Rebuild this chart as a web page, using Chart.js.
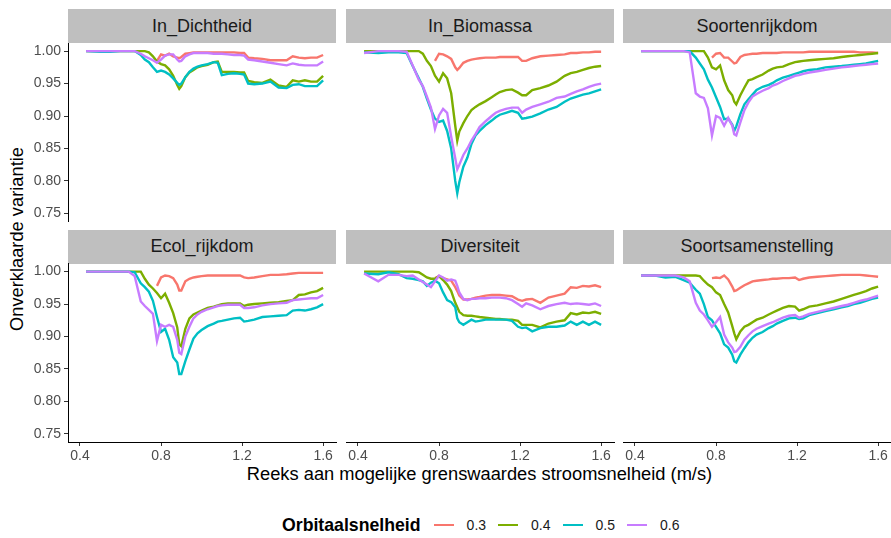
<!DOCTYPE html>
<html>
<head>
<meta charset="utf-8">
<script src="https://cdn.jsdelivr.net/npm/chart.js@4.4.1/dist/chart.umd.min.js"></script>
<style>
  html, body { margin: 0; padding: 0; background: #ffffff; }
  #wrap { position: relative; width: 891px; height: 538px; overflow: hidden;
          font-family: "Liberation Sans", Arial, Helvetica, sans-serif; }
  #wrap canvas { position: absolute; left: 0; top: 0; }
  .strip { position: absolute; background: #BFBFBF; color: #1A1A1A; font-size: 18px;
           display: flex; align-items: center; justify-content: center; }
  #xtitle { position: absolute; left: 68px; width: 823px; top: 463px; text-align: center;
            font-size: 18.3px; color: #000; line-height: 22px; }
  #ytitle { position: absolute; left: 17px; top: 239px; width: 300px; margin-left: -150px;
            text-align: center; font-size: 18.3px; color: #000; line-height: 22px;
            transform: translateY(-11px) rotate(-90deg); }
  #legend { position: absolute; left: 282px; top: 514px; height: 22px; display: flex;
            align-items: center; color: #000; }
  #legend .ttl { font-weight: bold; font-size: 17.7px; margin-right: 13px; }
  #legend .key { display: inline-block; width: 20px; height: 2.6px; margin-right: 13px; }
  #legend .lab { font-size: 14px; color: #1A1A1A; margin-right: 12px; }
</style>
</head>
<body>
<div id="wrap">
  <div id="xtitle">Reeks aan mogelijke grenswaardes stroomsnelheid (m/s)</div>
  <div id="ytitle">Onverklaarde variantie</div>
  <div id="legend"></div>
</div>
<script>
// Threshold values of the flow velocity (m/s), shared by every panel
const velocity = [0.43, 0.50, 0.55, 0.60, 0.64, 0.67, 0.70, 0.72, 0.74, 0.76,
                  0.78, 0.80, 0.82, 0.84, 0.86, 0.88, 0.89, 0.90,
                  0.92, 0.94, 0.96, 0.98, 1.00,
                  1.03, 1.06, 1.08, 1.10, 1.13, 1.16, 1.19,
                  1.21, 1.23, 1.26, 1.30, 1.34, 1.38, 1.42,
                  1.45, 1.48, 1.51, 1.54, 1.57, 1.60];

// Orbital velocity levels (legend)
const orbitalLevels = ['0.3', '0.4', '0.5', '0.6'];
const levelColors = ['#F8766D', '#7CAE00', '#00BFC4', '#C77CFF'];

const xTicks = [0.4, 0.8, 1.2, 1.6];
const yTicks = [0.75, 0.80, 0.85, 0.90, 0.95, 1.00];

const N = null;

// ln_Dichtheid
const dichtheid03 = [N,N,N,N,N,N,N,N,N,N,
  0.985,0.995,0.993,0.996,0.992,0.990,0.989,0.991,
  0.996,0.997,0.998,0.998,0.998,
  0.998,0.998,0.998,0.998,0.998,0.998,0.997,
  0.997,0.990,0.989,0.988,0.986,0.986,0.986,
  0.992,0.990,0.989,0.990,0.990,0.994];
const dichtheid04 = [1,1,1,1,1,1,1,1,0.998,0.992,
  0.984,0.980,0.978,0.972,0.962,0.948,0.942,0.946,
  0.960,0.967,0.971,0.975,0.977,
  0.979,0.983,0.984,0.968,0.968,0.968,0.967,
  0.967,0.954,0.952,0.951,0.956,0.947,0.945,
  0.955,0.953,0.955,0.953,0.953,0.962];
const dichtheid05 = [1.000,0.999,0.999,1.000,1.000,1.000,0.994,0.987,0.983,0.975,
  0.968,0.970,0.968,0.964,0.958,0.951,0.948,0.950,
  0.960,0.968,0.973,0.976,0.978,
  0.980,0.983,0.982,0.963,0.965,0.966,0.965,
  0.964,0.950,0.949,0.950,0.953,0.944,0.943,
  0.948,0.949,0.946,0.946,0.946,0.955];
const dichtheid06 = [1,1,1,1,1,1,0.996,0.992,0.989,0.986,
  0.982,0.987,0.993,0.995,0.995,0.987,0.984,0.985,
  0.992,0.995,0.997,0.997,0.997,
  0.997,0.996,0.996,0.996,0.995,0.994,0.994,
  0.993,0.987,0.986,0.984,0.982,0.980,0.978,
  0.981,0.979,0.978,0.978,0.978,0.984];

// ln_Biomassa
const biomassa03 = [N,N,N,N,N,N,N,N,N,N,
  0.985,0.996,0.995,0.992,0.988,0.975,0.971,0.974,
  0.982,0.985,0.987,0.988,0.989,
  0.990,0.990,0.990,0.991,0.991,0.991,0.991,
  0.985,0.985,0.989,0.992,0.993,0.994,0.995,
  0.997,0.997,0.998,0.998,0.999,0.999];
const biomassa04 = [1,1,1,1,1,1,1,0.996,0.985,0.977,
  0.962,0.953,0.966,0.958,0.935,0.885,0.862,0.876,
  0.889,0.900,0.909,0.914,0.918,
  0.923,0.929,0.933,0.937,0.940,0.941,0.936,
  0.932,0.932,0.940,0.943,0.947,0.953,0.962,
  0.966,0.968,0.971,0.974,0.976,0.977];
const biomassa05 = [0.998,0.997,0.998,0.998,0.997,0.977,0.958,0.945,0.927,0.910,
  0.896,0.891,0.893,0.877,0.850,0.800,0.781,0.798,
  0.822,0.836,0.857,0.870,0.877,
  0.886,0.893,0.898,0.902,0.905,0.908,0.905,
  0.896,0.897,0.899,0.904,0.910,0.914,0.922,
  0.927,0.930,0.933,0.935,0.938,0.941];
const biomassa06 = [0.997,1.000,1.000,1.000,0.999,0.978,0.956,0.946,0.930,0.913,
  0.880,0.901,0.911,0.905,0.868,0.835,0.818,0.825,
  0.840,0.850,0.862,0.872,0.883,
  0.892,0.900,0.905,0.908,0.911,0.913,0.913,
  0.905,0.910,0.914,0.918,0.922,0.928,0.930,
  0.934,0.938,0.941,0.945,0.948,0.950];

// Soortenrijkdom
const rijkdom03 = [N,N,N,N,N,N,N,N,N,N,
  0.990,0.996,0.997,0.990,0.990,0.984,0.981,0.982,
  0.991,0.994,0.995,0.996,0.996,
  0.997,0.997,0.997,0.997,0.998,0.998,0.998,
  0.998,0.998,0.999,0.999,0.999,0.999,0.999,
  0.999,0.999,0.998,0.998,0.998,0.997];
const rijkdom04 = [1,1,1,1,1,1,1,1,1,0.990,
  0.975,0.972,0.978,0.955,0.940,0.932,0.922,0.918,
  0.932,0.944,0.955,0.957,0.960,
  0.964,0.970,0.973,0.975,0.976,0.980,0.983,
  0.984,0.985,0.986,0.987,0.988,0.989,0.991,
  0.992,0.993,0.994,0.995,0.996,0.997];
const rijkdom05 = [1,1,1,1,1,1,0.990,0.981,0.972,0.956,
  0.944,0.929,0.914,0.895,0.896,0.887,0.877,0.884,
  0.903,0.918,0.926,0.933,0.940,
  0.945,0.948,0.951,0.955,0.959,0.962,0.965,
  0.967,0.969,0.971,0.972,0.975,0.976,0.977,
  0.978,0.979,0.980,0.981,0.983,0.985];
const rijkdom06 = [1,1,1,1,1,0.998,0.935,0.930,0.928,0.912,
  0.870,0.900,0.897,0.885,0.897,0.885,0.872,0.870,
  0.890,0.909,0.921,0.930,0.934,
  0.939,0.943,0.947,0.949,0.954,0.958,0.962,
  0.963,0.965,0.967,0.969,0.971,0.973,0.975,
  0.976,0.977,0.978,0.979,0.980,0.981];

// Ecol_rijkdom
const ecol03 = [N,N,N,N,N,N,N,N,N,N,
  0.978,0.991,0.994,0.993,0.990,0.980,0.971,0.971,
  0.985,0.989,0.991,0.992,0.993,
  0.994,0.994,0.994,0.994,0.994,0.994,0.994,
  0.991,0.990,0.991,0.993,0.995,0.995,0.996,
  0.997,0.998,0.998,0.998,0.998,0.998];
const ecol04 = [1,1,1,1,1,1,1,0.989,0.980,0.974,
  0.967,0.959,0.966,0.952,0.936,0.914,0.888,0.885,
  0.912,0.928,0.934,0.937,0.940,
  0.944,0.946,0.948,0.950,0.951,0.951,0.951,
  0.947,0.949,0.950,0.951,0.952,0.953,0.955,
  0.956,0.964,0.965,0.968,0.970,0.975];
const ecol05 = [1,1,1,1,1,0.999,0.982,0.976,0.969,0.955,
  0.930,0.907,0.912,0.895,0.868,0.860,0.842,0.842,
  0.862,0.880,0.897,0.905,0.910,
  0.916,0.920,0.923,0.924,0.926,0.928,0.929,
  0.923,0.924,0.926,0.930,0.931,0.932,0.933,
  0.940,0.941,0.940,0.942,0.945,0.950];
const ecol06 = [1,1,1,1,1,0.993,0.954,0.947,0.941,0.935,
  0.893,0.918,0.915,0.918,0.915,0.895,0.875,0.873,
  0.900,0.915,0.928,0.934,0.938,
  0.942,0.945,0.947,0.948,0.949,0.949,0.949,
  0.944,0.944,0.945,0.948,0.950,0.951,0.952,
  0.956,0.957,0.958,0.959,0.959,0.964];

// Diversiteit
const diversiteit03 = [N,N,N,N,N,N,N,N,N,N,
  0.990,0.993,0.990,0.988,0.986,0.976,0.970,0.963,
  0.957,0.957,0.958,0.960,0.961,
  0.963,0.964,0.964,0.964,0.963,0.962,0.957,
  0.955,0.957,0.958,0.952,0.960,0.963,0.966,
  0.976,0.975,0.978,0.977,0.979,0.976];
const diversiteit04 = [1,1,1,1,1,1,0.999,0.995,0.991,0.989,
  0.989,0.993,0.987,0.980,0.970,0.952,0.945,0.938,
  0.933,0.932,0.932,0.931,0.930,
  0.929,0.928,0.927,0.927,0.926,0.926,0.924,
  0.918,0.918,0.918,0.914,0.920,0.923,0.925,
  0.936,0.934,0.937,0.936,0.938,0.935];
const diversiteit05 = [0.997,0.996,0.999,0.996,0.990,0.989,0.987,0.985,0.978,0.983,
  0.986,0.982,0.968,0.956,0.953,0.945,0.928,0.922,
  0.918,0.922,0.926,0.923,0.924,
  0.926,0.926,0.926,0.926,0.926,0.924,0.915,
  0.913,0.914,0.908,0.913,0.915,0.915,0.917,
  0.923,0.918,0.923,0.918,0.923,0.918];
const diversiteit06 = [0.997,0.985,0.995,0.995,0.993,0.994,0.988,0.984,0.980,0.976,
  0.985,0.994,0.991,0.986,0.988,0.986,0.978,0.968,
  0.958,0.956,0.958,0.958,0.959,
  0.959,0.960,0.960,0.960,0.959,0.956,0.950,
  0.946,0.951,0.948,0.942,0.947,0.950,0.952,
  0.950,0.951,0.950,0.949,0.951,0.947];

// Soortsamenstelling
const samenstelling03 = [N,N,N,N,N,N,N,N,N,N,
  0.990,0.991,0.990,0.994,0.988,0.977,0.970,0.971,
  0.975,0.979,0.982,0.985,0.986,
  0.987,0.988,0.989,0.989,0.990,0.990,0.991,
  0.987,0.989,0.991,0.992,0.993,0.994,0.995,
  0.995,0.995,0.995,0.994,0.993,0.992];
const samenstelling04 = [0.994,0.994,0.994,0.994,0.994,0.994,0.994,0.993,0.986,0.980,
  0.976,0.968,0.964,0.950,0.937,0.916,0.905,0.896,
  0.908,0.915,0.918,0.922,0.926,
  0.929,0.934,0.937,0.940,0.944,0.947,0.946,
  0.940,0.942,0.946,0.948,0.951,0.954,0.958,
  0.961,0.964,0.967,0.970,0.974,0.977];
const samenstelling05 = [0.994,0.994,0.991,0.992,0.987,0.983,0.972,0.966,0.950,0.930,
  0.925,0.915,0.905,0.888,0.883,0.872,0.862,0.860,
  0.872,0.882,0.891,0.898,0.903,
  0.907,0.913,0.916,0.920,0.924,0.928,0.929,
  0.927,0.928,0.933,0.936,0.939,0.942,0.945,
  0.947,0.950,0.952,0.955,0.958,0.960];
const samenstelling06 = [0.994,0.994,0.994,0.994,0.991,0.985,0.952,0.940,0.934,0.925,
  0.915,0.922,0.930,0.903,0.891,0.883,0.876,0.877,
  0.884,0.895,0.902,0.908,0.912,
  0.916,0.920,0.922,0.925,0.929,0.932,0.933,
  0.929,0.931,0.935,0.938,0.941,0.944,0.947,
  0.949,0.952,0.955,0.957,0.960,0.963];

// Facet order: row by row
const panelTitles = ['In_Dichtheid', 'In_Biomassa', 'Soortenrijkdom',
                     'Ecol_rijkdom', 'Diversiteit', 'Soortsamenstelling'];
const panelSeries = [
  [dichtheid03, dichtheid04, dichtheid05, dichtheid06],
  [biomassa03, biomassa04, biomassa05, biomassa06],
  [rijkdom03, rijkdom04, rijkdom05, rijkdom06],
  [ecol03, ecol04, ecol05, ecol06],
  [diversiteit03, diversiteit04, diversiteit05, diversiteit06],
  [samenstelling03, samenstelling04, samenstelling05, samenstelling06]
];

// Facet grid geometry
const W = 891, H = 538;
const PANEL_LEFT = [68, 346, 623];
const PANEL_TOP = [43, 263.5];
const PANEL_W = 268, PANEL_H = 178.5;
const STRIP_H = [34, 33.5];
const Y_AXIS_W = 68, X_AXIS_H = 30;
const X_MIN = 0.3408, X_MAX = 1.6636;
const Y_MIN = 0.7375, Y_MAX = 1.0125;

const tickFont = { family: '"Liberation Sans", Arial, sans-serif', size: 14 };
const wrap = document.getElementById('wrap');

panelTitles.forEach((title, k) => {
  const r = Math.floor(k / 3), c = k % 3;
  const left = PANEL_LEFT[c], top = PANEL_TOP[r];
  const showY = c === 0, showX = r === 1;

  const strip = document.createElement('div');
  strip.className = 'strip';
  strip.textContent = title;
  strip.style.left = left + 'px';
  strip.style.top = (top - STRIP_H[r]) + 'px';
  strip.style.width = PANEL_W + 'px';
  strip.style.height = STRIP_H[r] + 'px';
  wrap.appendChild(strip);

  const canvas = document.createElement('canvas');
  canvas.width = W; canvas.height = H;
  wrap.appendChild(canvas);

  const datasets = panelSeries[k].map((vals, i) => ({
    label: orbitalLevels[i],
    data: velocity.map((x, j) => ({ x: x, y: vals[j] })),
    borderColor: levelColors[i],
    backgroundColor: levelColors[i],
    borderWidth: 2.4,
    pointRadius: 0,
    tension: 0,
    fill: false,
    spanGaps: false,
    order: 3 - i
  }));

  new Chart(canvas, {
    type: 'line',
    data: { datasets },
    options: {
      responsive: false,
      animation: false,
      events: [],
      layout: {
        autoPadding: false,
        padding: {
          left: showY ? left - Y_AXIS_W : left,
          top: top,
          right: W - left - PANEL_W,
          bottom: H - top - PANEL_H - (showX ? X_AXIS_H : 0)
        }
      },
      plugins: { legend: { display: false }, tooltip: { enabled: false } },
      scales: {
        x: {
          type: 'linear', min: X_MIN, max: X_MAX, display: showX,
          afterBuildTicks: s => { s.ticks = xTicks.map(v => ({ value: v })); },
          afterFit: s => { s.height = showX ? X_AXIS_H : 0; },
          ticks: { font: tickFont, color: '#4D4D4D', padding: 2, maxRotation: 0,
                   callback: v => Number(v).toFixed(1) },
          grid: { drawOnChartArea: false, drawTicks: true, tickLength: 4, color: '#333333' },
          border: { display: true, color: '#000000', width: 1 }
        },
        y: {
          type: 'linear', min: Y_MIN, max: Y_MAX, display: showY,
          afterBuildTicks: s => { s.ticks = yTicks.map(v => ({ value: v })); },
          afterFit: s => { s.width = showY ? Y_AXIS_W : 0; },
          ticks: { font: tickFont, color: '#4D4D4D', padding: 3,
                   callback: v => Number(v).toFixed(2) },
          grid: { drawOnChartArea: false, drawTicks: true, tickLength: 4, color: '#333333' },
          border: { display: true, color: '#000000', width: 1 }
        }
      }
    }
  });
});

// Legend: title followed by a line key and label per level
const legend = document.getElementById('legend');
const lt = document.createElement('span');
lt.className = 'ttl';
lt.textContent = 'Orbitaalsnelheid';
legend.appendChild(lt);
orbitalLevels.forEach((lvl, i) => {
  const key = document.createElement('span');
  key.className = 'key';
  key.style.background = levelColors[i];
  legend.appendChild(key);
  const lab = document.createElement('span');
  lab.className = 'lab';
  lab.textContent = lvl;
  legend.appendChild(lab);
});
</script>
</body>
</html>
